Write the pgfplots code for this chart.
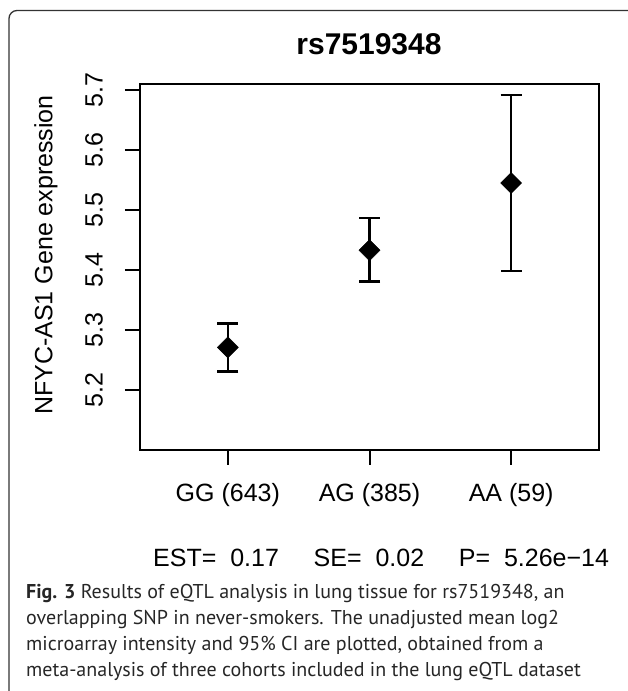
\documentclass[border=0pt]{standalone}
\usepackage{pgfplots}
\pgfplotsset{compat=1.18}
\usepackage{fontspec}
\setmainfont{Liberation Sans}
\newfontfamily\capfont{PT Sans}

\begin{document}
\begin{tikzpicture}[x=1pt,y=1pt]
\path[use as bounding box] (0,0) rectangle (627,691);
% outer frame (open at right and bottom)
\draw[line width=1.3pt, rounded corners=8pt, black!80] (9,-5) -- (9,680.5) -- (640,680.5);

\begin{axis}[
  at={(140pt,241pt)}, anchor=south west,
  scale only axis, width=459pt, height=366pt,
  xmin=0.38, xmax=3.62, ymin=5.1, ymax=5.71,
  xtick={1,2,3}, xticklabels={GG (643), AG (385), AA (59)},
  ytick={5.2,5.3,5.4,5.5,5.6,5.7}, yticklabels={5.2,5.3,5.4,5.5,5.6,5.7},
  xtick pos=bottom, ytick pos=left, tick align=outside,
  major tick length=15pt,
  every tick/.style={black, line width=2pt},
  axis line style={line width=2pt},
  ticklabel style={font=\fontsize{25}{30}\selectfont, inner sep=0pt},
  yticklabel style={rotate=90, anchor=south},
  xticklabel style={anchor=north},
  yticklabel shift=22pt,
  xticklabel shift=18pt,
]
\addplot[only marks, mark=square*, mark size=7.4pt,
  mark options={rotate=45, fill=black, line width=0.5pt},
  error bars/.cd, y dir=both, y explicit,
  error bar style={line width=2.3pt},
  error mark options={rotate=90, mark size=10.5pt, line width=2.3pt}]
  table[x=x, y=y, y error plus=ep, y error minus=em] {
x y ep em
1 5.271 0.040 0.040
2 5.433 0.054 0.052
3 5.545 0.147 0.147
};
\end{axis}

\node[font=\fontsize{30}{36}\selectfont\bfseries] at (369,647) {rs7519348};
\node[rotate=90, font=\fontsize{25}{30}\selectfont] at (46,436) {NFYC-AS1 Gene expression};
\node[anchor=base west, inner sep=0pt, font=\fontsize{25}{30}\selectfont] at (153,124)
  {EST=~~0.17~~~~~SE=~~0.02~~~~~P=~~5.26e−14};

% caption
\begin{scope}[every node/.style={anchor=base west, inner sep=0pt, text=black!85,
    font=\capfont\fontsize{20}{26}\selectfont}]
\node at (26,92) {\textbf{Fig. 3} Results of eQTL analysis in lung tissue for rs7519348, an};
\node at (26,66) {overlapping SNP in never-smokers. The unadjusted mean log2};
\node at (26,40) {microarray intensity and 95\% CI are plotted, obtained from a};
\node at (26,14) {meta-analysis of three cohorts included in the lung eQTL dataset};
\end{scope}
\end{tikzpicture}
\end{document}
